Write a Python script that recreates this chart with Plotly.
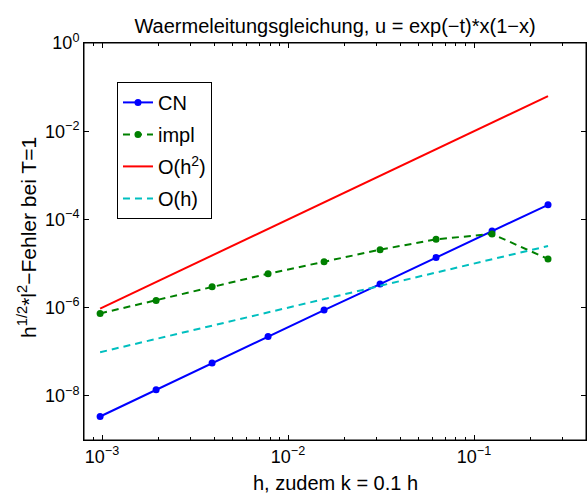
import plotly.graph_objects as go

# data
h = [0.0009765625, 0.001953125, 0.00390625, 0.0078125, 0.015625,
     0.03125, 0.0625, 0.125, 0.25]
cn = [3.41e-9, 1.37e-8, 5.54e-8, 2.22e-7, 8.8e-7, 3.43e-6, 1.38e-5, 5.5e-5, 2.15e-4]
impl = [7.4e-7, 1.46e-6, 2.98e-6, 5.87e-6, 1.10e-5, 2.06e-5, 3.54e-5, 4.7e-5, 1.27e-5]
o_h2 = [9.54e-7, 3.81e-6, 1.53e-5, 6.1e-5, 2.44e-4, 9.77e-4, 3.91e-3, 1.56e-2, 6.25e-2]
o_h = [9.77e-8, 1.95e-7, 3.91e-7, 7.81e-7, 1.56e-6, 3.13e-6, 6.25e-6, 1.25e-5, 2.5e-5]

x_ticks = [1e-3, 1e-2, 1e-1]
x_ticktext = ["10<sup>\u22123</sup>", "10<sup>\u22122</sup>", "10<sup>\u22121</sup>"]
x_minor = [8e-4, 9e-4] + [k * 1e-3 for k in range(2, 10)] + [k * 1e-2 for k in range(2, 10)] + [2e-1, 3e-1, 4e-1]
y_ticks = [1e0, 1e-2, 1e-4, 1e-6, 1e-8]
y_ticktext = ["10<sup>0</sup>", "10<sup>\u22122</sup>", "10<sup>\u22124</sup>",
              "10<sup>\u22126</sup>", "10<sup>\u22128</sup>"]

FONT = "Arial, Liberation Sans, Helvetica, sans-serif"
DASH = "7px,5px"

fig = go.Figure()
fig.add_trace(go.Scatter(x=h, y=cn, name="CN", mode="lines+markers",
                         line=dict(color="#0000ff", width=2),
                         marker=dict(color="#0000ff", size=7), legendgroup="a"))
fig.add_trace(go.Scatter(x=h, y=impl, name="impl", mode="lines+markers",
                         line=dict(color="#008000", width=2, dash=DASH),
                         marker=dict(color="#008000", size=7), legendgroup="b"))
fig.add_trace(go.Scatter(x=h, y=o_h2, name="O(h<sup>2</sup>)", mode="lines",
                         line=dict(color="#ff0000", width=2), legendgroup="c"))
fig.add_trace(go.Scatter(x=h, y=o_h, name="O(h)", mode="lines",
                         line=dict(color="#00bfbf", width=2, dash=DASH), legendgroup="d"))

axis_common = dict(showline=True, linecolor="black", linewidth=1, mirror="allticks",
                   ticks="inside", ticklen=5, tickcolor="black", tickwidth=1,
                   showgrid=False, zeroline=False,
                   tickfont=dict(family=FONT, size=18, color="black"))

fig.update_xaxes(type="log", range=[-3.09691, -0.39794], tickmode="array",
                 tickvals=x_ticks, ticktext=x_ticktext,
                 minor=dict(tickmode="array", tickvals=x_minor, ticks="inside",
                            ticklen=3, tickcolor="black", showgrid=False),
                 **axis_common)
fig.update_yaxes(type="log", range=[-9, 0], tickmode="array",
                 tickvals=y_ticks, ticktext=y_ticktext, **axis_common)

fig.update_layout(
    width=588, height=497,
    margin=dict(l=84, r=2, t=43, b=57),
    paper_bgcolor="white", plot_bgcolor="white",
    font=dict(family=FONT, color="black"),
    title=dict(text="Waermeleitungsgleichung, u = exp(\u2212t)*x(1\u2212x)",
               x=0.5698, xanchor="center", y=0.948, yanchor="middle",
               font=dict(family=FONT, size=20, color="black")),
    legend=dict(x=0.0657, y=0.902, xanchor="left", yanchor="top",
                bordercolor="black", borderwidth=1, bgcolor="white",
                font=dict(family=FONT, size=20, color="black"),
                traceorder="grouped", tracegroupgap=3),
    shapes=[dict(type="rect", xref="paper", yref="paper", x0=0, x1=1, y0=0, y1=1,
                 line=dict(color="black", width=1), layer="above")],
    annotations=[
        dict(text="h, zudem k = 0.1 h", xref="paper", yref="paper",
             x=0.5, y=-0.108, xanchor="center", yanchor="middle", showarrow=False,
             font=dict(family=FONT, size=20, color="black")),
        dict(text="h<sup>1/2</sup>*l<sup>2</sup>\u2212Fehler bei T=1", xref="paper", yref="paper",
             x=0, y=0.509, xanchor="center", yanchor="middle", xshift=-57, textangle=-90,
             showarrow=False, font=dict(family=FONT, size=21, color="black")),
    ],
)

fig.write_html("out.html", config={"displayModeBar": False},
               post_script="document.body.style.margin='0';document.body.style.overflow='hidden';")
